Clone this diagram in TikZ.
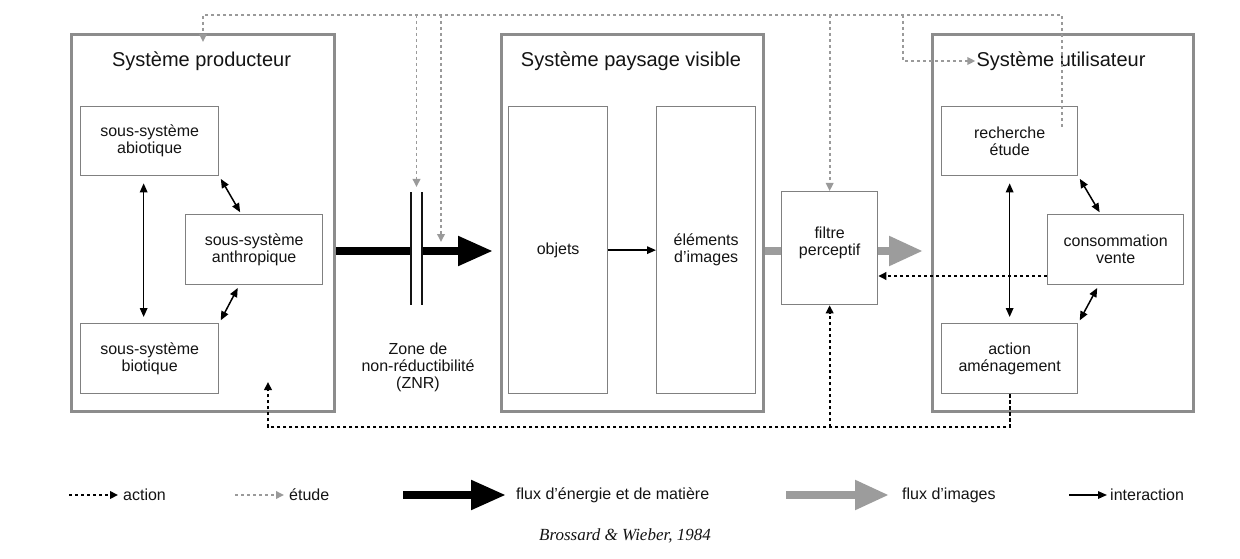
\documentclass[tikz,border=0pt]{standalone}
\usepackage{fontspec}
\setmainfont{Liberation Sans}
\newfontfamily\citefont{Liberation Serif}
\usetikzlibrary{arrows.meta}
\definecolor{bigc}{HTML}{8C8C8C}
\definecolor{subc}{HTML}{808080}
\definecolor{etudec}{HTML}{9A9A9A}
\definecolor{inkc}{HTML}{141414}
\definecolor{imgc}{HTML}{9C9C9C}
\newcommand{\titletxt}{\fontsize{20}{24}\selectfont}
\newcommand{\boxtxt}{\fontsize{16}{17}\selectfont}
\begin{document}
\begin{tikzpicture}[x=1pt,y=-1pt,
  bigbox/.style={draw=bigc,line width=3pt,anchor=north west,inner sep=0pt},
  subbox/.style={draw=subc,line width=1.3pt,anchor=north west,inner sep=0pt,align=center,font=\boxtxt,text=inkc},
  titletext/.style={font=\titletxt,text=inkc,inner sep=0pt},
  labeltext/.style={font=\boxtxt,text=inkc,inner sep=0pt,align=center},
  inter/.style={draw=black,line width=1.5pt,-{Triangle[length=9pt,width=7.5pt]}},
  interboth/.style={draw=black,line width=1.5pt,{Triangle[length=9pt,width=7.5pt]}-{Triangle[length=9pt,width=7.5pt]}},
  actionarrow/.style={draw=black,line width=2pt,dash pattern=on 3.2pt off 2.8pt,-{Triangle[length=8pt,width=7.5pt]}},
  etudearrow/.style={draw=etudec,line width=1.8pt,dash pattern=on 3.2pt off 2.8pt,-{Triangle[length=8pt,width=7.5pt]}},
  energy/.style={draw=black,line width=8pt,-{Triangle[length=35pt,width=28pt]}},
  images/.style={draw=imgc,line width=8pt,-{Triangle[length=34pt,width=28pt]}},
]
\useasboundingbox[fill=white] (0,0) rectangle (1240,559);

% big systems
\node[bigbox,minimum width=263pt,minimum height=377pt] (prod) at (70,33) {};
\node[bigbox,minimum width=262pt,minimum height=377pt] (pays) at (500,33) {};
\node[bigbox,minimum width=261pt,minimum height=377pt] (util) at (931,33) {};

\node[titletext] (tprod) at (201.5,61) {Système producteur};
\node[titletext] (tpays) at (631,61) {Système paysage visible};
\node[titletext] (tutil) at (1061,61) {Système utilisateur};

% producteur sub-systems
\node[subbox,minimum width=138pt,minimum height=69pt] (abio) at (80,106) {sous-système\\abiotique};
\node[subbox,minimum width=137pt,minimum height=70pt] (anthro) at (185,214) {sous-système\\anthropique};
\node[subbox,minimum width=138pt,minimum height=70pt] (bio) at (80,323) {sous-système\\biotique};

% paysage
\node[subbox,minimum width=99pt,minimum height=287pt] (obj) at (508,106) {objets};
\node[subbox,minimum width=99pt,minimum height=287pt] (elem) at (656,106) {éléments\\d'images};
\node[subbox,minimum width=96pt,minimum height=113pt] (filtre) at (781,191) {};
\node[labeltext] (filtrelab) at ([yshift=5pt]filtre.center) {filtre\\perceptif};

% utilisateur
\node[subbox,minimum width=136pt,minimum height=69pt] (rech) at (941,106) {recherche\\étude};
\node[subbox,minimum width=136pt,minimum height=70pt] (conso) at (1047,214) {consommation\\vente};
\node[subbox,minimum width=136pt,minimum height=70pt] (action) at (941,323) {action\\aménagement};

% interactions
\draw[interboth,shorten <=7pt,shorten >=6pt] ([xshift=-6pt]abio.south) -- ([xshift=-6pt]bio.north);
\draw[interboth,shorten <=3pt,shorten >=2pt] (abio.south east) -- ([xshift=-13pt]anthro.north);
\draw[interboth,shorten <=3pt,shorten >=3pt] ([xshift=-15pt]anthro.south) -- (bio.north east);
\draw[interboth,shorten <=7pt,shorten >=6pt] (rech.south) -- (action.north);
\draw[interboth,shorten <=3pt,shorten >=2pt] (rech.south east) -- ([xshift=-15pt]conso.north);
\draw[interboth,shorten <=3pt,shorten >=3pt] ([xshift=-17pt]conso.south) -- (action.north east);
\draw[inter] (obj.east) -- (elem.west);

% flows
\coordinate (flowy) at (0,251);
\draw[energy,shorten >=7pt] (prod.east |- flowy) -- (pays.west |- flowy);
\node[fill=white,minimum width=10pt,minimum height=113pt,anchor=north,inner sep=0pt] (znr) at (416.5,192) {};
\draw[line width=2pt,inkc] (znr.north west) -- (znr.south west);
\draw[line width=2pt,inkc] (znr.north east) -- (znr.south east);
\node[labeltext] (znrlab) at (418,367) {Zone de\\non-réductibilité\\(ZNR)};

\draw[draw=imgc,line width=8pt] (pays.east |- flowy) -- (filtre.west |- flowy);
\draw[images,shorten >=8pt] (filtre.east |- flowy) -- (util.west |- flowy);

% etude (grey dotted)
\coordinate (topy) at (0,15);
\coordinate (eS) at (1062,127);
\coordinate (eU) at (903,15);
\coordinate (ez2top) at (441,15);
\coordinate (ez2) at (441,242);
\draw[etudearrow] (eS) -- (eS |- topy) -| ([yshift=-9pt]prod.north);
\draw[etudearrow,shorten >=5pt] (znr.north |- topy) -- (znr.north);
\draw[etudearrow] (ez2top) -- (ez2);
\draw[etudearrow] (filtre.north |- topy) -- (filtre.north);
\draw[etudearrow,shorten >=1pt] (eU) |- (tutil.west);

% action (black dotted)
\coordinate (acty) at (0,276);
\coordinate (bl) at (268,427);
\coordinate (pin) at (268,382);
\draw[actionarrow] (conso.west |- acty) -- (filtre.east |- acty);
\draw[actionarrow] (action.south) |- (bl) -- (pin);
\draw[actionarrow] (filtre.south |- bl) -- (filtre.south);

% legend
\coordinate (la1) at (69,495);   \coordinate (la2) at (118,495);
\coordinate (le1) at (235,495);  \coordinate (le2) at (284,495);
\coordinate (lf1) at (403,495);  \coordinate (lf2) at (506,495);
\coordinate (li1) at (786,495);  \coordinate (li2) at (889,495);
\coordinate (ln1) at (1069,495); \coordinate (ln2) at (1107,495);
\draw[actionarrow] (la1) -- (la2);
\node[labeltext,anchor=west] (lat) at (123,495) {action};
\draw[etudearrow] (le1) -- (le2);
\node[labeltext,anchor=west] (let) at (289,495) {étude};
\draw[energy] (lf1) -- (lf2);
\node[labeltext,anchor=west] (lft) at (516,495) {flux d'énergie et de matière};
\draw[images] (li1) -- (li2);
\node[labeltext,anchor=west] (lit) at (902,495) {flux d'images};
\draw[inter] (ln1) -- (ln2);
\node[labeltext,anchor=west] (lnt) at (1110,495) {interaction};

\node[font=\citefont\itshape\fontsize{17}{20}\selectfont,text=inkc,inner sep=0pt] (cite) at (625,536) {Brossard \& Wieber, 1984};
\end{tikzpicture}
\end{document}
